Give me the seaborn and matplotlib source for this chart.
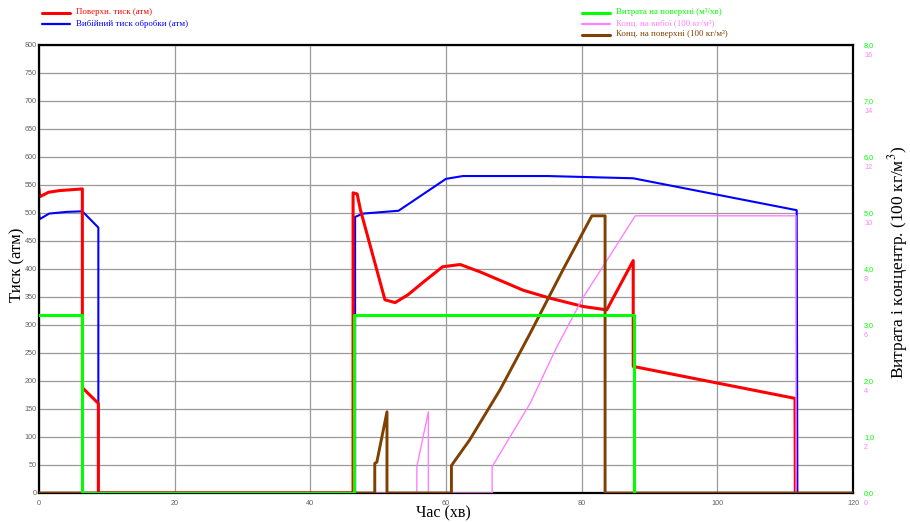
import matplotlib
matplotlib.use("Agg")
import matplotlib.pyplot as plt
import matplotlib.transforms as mtransforms
from matplotlib.lines import Line2D
import seaborn as sns

# ---------------- data ----------------
# surface pressure (atm)
red_t = [0, 0.1, 1.4, 3.0, 6.39, 6.39, 8.75, 8.75, 46.3, 46.3, 46.9, 47.4, 51.0, 52.5, 54.4,
         56.7, 59.5, 62.1, 65.0, 71.4, 75.3, 80.25, 83.7, 87.6, 87.6, 111.45, 111.5]
red_p = [544, 529, 537, 540, 543, 188, 160, 0, 0, 536, 534, 505, 345, 340, 354,
         377, 404, 408, 395, 362, 348, 333, 327, 415, 226, 169, 0]
# bottom-hole pressure (atm)
blue_t = [0, 0.1, 1.5, 4.1, 6.39, 8.75, 8.75, 46.6, 46.6, 47.8, 53.0, 60.0, 62.5, 75.0, 87.6, 111.7, 111.8]
blue_p = [502, 489, 499, 502, 503, 474, 0, 0, 493, 499, 504, 561, 566, 566, 562, 505, 0]
# surface rate (m3/min)
green_t = [0, 6.39, 6.39, 46.4, 46.4, 87.65, 87.65]
green_q = [3.18, 3.18, 0, 0, 3.18, 3.18, 0]
# bottom-hole concentration (100 kg/m3)
pink_t = [0, 55.7, 55.7, 57.4, 57.4, 66.8, 66.8, 72.4, 76.3, 80.25, 83.7, 87.9, 111.6, 111.6]
pink_c = [0, 0, 0.94, 2.9, 0, 0, 0.94, 3.2, 5.2, 7.0, 8.3, 9.9, 9.9, 0]
# surface concentration (100 kg/m3)
brown_t = [0, 49.5, 49.5, 49.8, 51.3, 51.3, 60.8, 60.8, 63.5, 68.0, 72.4, 77.3, 81.5, 83.45, 83.45, 120]
brown_c = [0, 0, 1.06, 1.1, 2.9, 0, 0, 0.98, 1.9, 3.7, 5.7, 8.0, 9.9, 9.9, 0, 0]

x_ticks = [0, 20, 40, 60, 80, 100, 120]
left_ticks = list(range(0, 801, 50))
rate_ticks = [0, 1, 2, 3, 4, 5, 6, 7, 8]
conc_ticks = [0, 2, 4, 6, 8, 10, 12, 14, 16]

lbl_red = "Поверхн. тиск (атм)"
lbl_blue = "Вибійний тиск обробки (атм)"
lbl_green = "Витрата на поверхні (м³/хв)"
lbl_pink = "Конц. на вибої (100 кг/м³)"
lbl_brown = "Конц. на поверхні (100 кг/м³)"

C_RED, C_BLUE, C_GREEN, C_PINK, C_BROWN = "#ff0000", "#0000ff", "#00ff00", "#ff80ff", "#804000"

# ---------------- figure ----------------
sns.set_theme(style="white")
plt.rcParams["font.family"] = ["Liberation Serif", "DejaVu Serif"]
plt.rcParams["mathtext.fontset"] = "stix"

W, H = 910, 522
fig = plt.figure(figsize=(W / 100, H / 100), dpi=100)
L, R, B, T = 39, 853, 493, 45
ax = fig.add_axes([L / W, (H - B) / H, (R - L) / W, (B - T) / H])
ax2 = ax.twinx()
ax3 = ax.twinx()

ax.set_xlim(0, 120)
ax.set_ylim(0, 800)
ax2.set_ylim(0, 8)
ax3.set_ylim(0, 16)

# grid
ax.set_xticks(x_ticks)
ax.set_yticks(left_ticks)
ax.grid(True, color="#9a9a9a", lw=0.9)
ax.set_axisbelow(True)

tick_font = dict(family="Liberation Sans", size=5.2)
ax.set_xticklabels([str(v) for v in x_ticks], color="#606060", **tick_font)
ax.set_yticklabels([str(v) for v in left_ticks], color="#606060", **tick_font)
ax.tick_params(axis="both", length=0)
ax.tick_params(axis="x", pad=5)
ax.tick_params(axis="y", pad=1.5)
for lab in ax.get_yticklabels():
    lab.set_verticalalignment("bottom")
    lab.set_transform(lab.get_transform() + mtransforms.ScaledTranslation(0, -3 / 72, fig.dpi_scale_trans))

# lines
sns.lineplot(x=blue_t, y=blue_p, ax=ax, color=C_BLUE, lw=1.5, sort=False, estimator=None)
sns.lineplot(x=red_t, y=red_p, ax=ax, color=C_RED, lw=2.2, sort=False, estimator=None)
sns.lineplot(x=pink_t, y=pink_c, ax=ax3, color=C_PINK, lw=1.0, sort=False, estimator=None)
sns.lineplot(x=brown_t, y=brown_c, ax=ax3, color=C_BROWN, lw=2.1, sort=False, estimator=None)
sns.lineplot(x=green_t, y=green_q, ax=ax2, color=C_GREEN, lw=2.2, sort=False, estimator=None)
ax3.set_zorder(ax.get_zorder() + 1)
ax2.set_zorder(ax3.get_zorder() + 1)
ax2.patch.set_visible(False)
ax3.patch.set_visible(False)

# right tick labels
ax2.set_yticks(rate_ticks)
ax2.set_yticklabels([f"{v:.1f}".replace(".", ",") for v in rate_ticks], color=C_GREEN, **tick_font)
ax3.set_yticks(conc_ticks)
ax3.set_yticklabels([str(v) for v in conc_ticks], color=C_PINK, **tick_font)
for a in (ax2, ax3):
    a.tick_params(axis="y", length=0, pad=8)
    a.grid(False)
    for s in a.spines.values():
        s.set_visible(False)
for lab in ax3.get_yticklabels():
    lab.set_transform(lab.get_transform() + mtransforms.ScaledTranslation(0, -7 / 72, fig.dpi_scale_trans))

for s in ax.spines.values():
    s.set_visible(True)
    s.set_color("black")
    s.set_linewidth(1.6)

# axis labels
ax.set_xlabel("Час (хв)", fontsize=11.5, color="black")
ax.xaxis.label.set_verticalalignment("top")
ax.xaxis.set_label_coords(0.497, -0.027)
ax.set_ylabel("Тиск (атм)", fontsize=12, color="black")
ax.yaxis.set_label_coords(-0.017, 0.51)
ax2.set_ylabel("Витрата і концентр. (100 кг/м$^3$)", fontsize=12.5, color="black")
ax2.yaxis.set_label_coords(1.041, 0.515)
ax3.set_ylabel("")

# legends
def legend_row(x0, y, color, lw, text):
    fig.add_artist(Line2D([x0 / W, (x0 + 28) / W], [1 - y / H, 1 - y / H], color=color, lw=lw,
                          transform=fig.transFigure))
    fig.text((x0 + 34) / W, 1 - y / H, text, color=color, fontsize=6.4, va="center", ha="left")

legend_row(42, 12.5, C_RED, 2.2, lbl_red)
legend_row(42, 23.5, C_BLUE, 1.6, lbl_blue)
legend_row(582, 12.5, C_GREEN, 2.2, lbl_green)
legend_row(582, 23.5, C_PINK, 1.6, lbl_pink)
legend_row(582, 34.5, C_BROWN, 2.2, lbl_brown)

fig.savefig("out.png", dpi=100)
